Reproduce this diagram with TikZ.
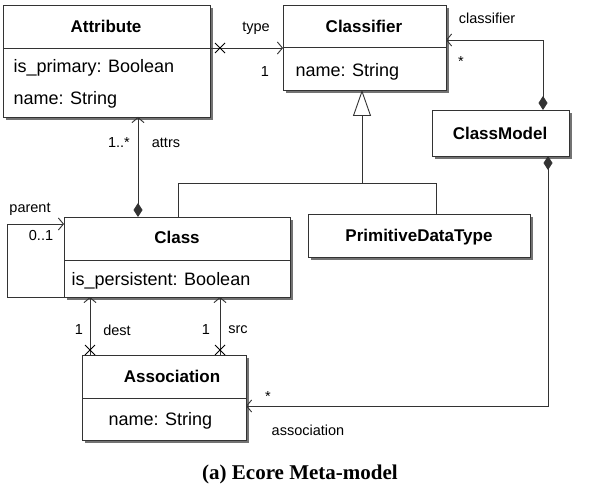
\documentclass[tikz,border=0pt]{standalone}
\usepackage{fontspec}
\setmainfont{Liberation Sans}
\usetikzlibrary{arrows.meta,shadows}
\begin{document}
\begin{tikzpicture}[x=1pt,y=-1pt,
  box/.style={draw=black!80,line width=1.2pt,fill=white,anchor=north west,inner sep=0pt,
    drop shadow={shadow xshift=2.5pt,shadow yshift=-2.5pt,fill=black!55,opacity=1}},
  hd/.style={font=\fontsize{17}{19}\selectfont\bfseries},
  attxt/.style={font=\fontsize{18}{20}\selectfont,anchor=west},
  lb/.style={font=\fontsize{14.5}{16}\selectfont},
  ln/.style={line width=0.9pt,draw=black!80},
  opn/.style={-{Straight Barb[length=5pt,width=12pt]}},
  diaopn/.style={{Diamond[length=14pt,width=9pt]}-{Straight Barb[length=5pt,width=12pt]}},
  xm/.style={line width=0.9pt}]
\useasboundingbox (0,0) rectangle (603,484);
% Attribute
\node[box,minimum width=207pt,minimum height=112pt] (attr) at (3,5) {};
\draw[ln] (3,48) -- (210,48);
\node[hd] at (106,26) {Attribute};
\node[attxt] at (10,68) {is\_primary: Boolean};
\node[attxt] at (10,100) {name: String};
% Classifier
\node[box,minimum width=163pt,minimum height=85pt] (clsf) at (283,5) {};
\draw[ln] (283,47) -- (446,47);
\node[hd] at (364,26) {Classifier};
\node[attxt] at (292,72) {name: String};
% ClassModel
\node[box,minimum width=137pt,minimum height=46pt] (cm) at (432,110) {};
\node[hd] at (500,133) {ClassModel};
% Class
\node[box,minimum width=226pt,minimum height=80pt] (cls) at (64,217) {};
\draw[ln] (64,260) -- (290,260);
\node[hd] at (177,237) {Class};
\node[attxt] at (68,281) {is\_persistent: Boolean};
% PrimitiveDataType
\node[box,minimum width=222pt,minimum height=43pt] (pdt) at (308,214) {};
\node[hd] at (419,237) {PrimitiveDataType};
% Association
\node[box,minimum width=164pt,minimum height=85pt] (asc) at (82,355) {};
\draw[ln] (82,398) -- (246,398);
\node[hd] at (172,376) {Association};
\node[attxt] at (105,421) {name: String};
% coordinates
\coordinate (a1) at (210,48); \coordinate (c1) at (283,48);
\coordinate (g1) at (362,90); \coordinate (g2) at (362,183);
\coordinate (g3) at (178,183); \coordinate (g4) at (436,183);
\coordinate (k1) at (543,110); \coordinate (k2) at (543,40); \coordinate (k3) at (446,40);
\coordinate (m1) at (548,156); \coordinate (m2) at (548,406); \coordinate (m3) at (246,406);
\coordinate (s1) at (138,217); \coordinate (s2) at (138,117);
\coordinate (p1) at (64,224); \coordinate (p2) at (7,224); \coordinate (p3) at (7,297); \coordinate (p4) at (64,297);
\coordinate (d1) at (90,355); \coordinate (d2) at (90,297);
\coordinate (r1) at (220,355); \coordinate (r2) at (220,297);
% type
\draw[ln,opn] (a1) -- (c1);
\draw[xm] (215,43) -- (225,53) (215,53) -- (225,43);
\node[lb] at (256,28) {type};
\node[lb] at (265,72) {1};
% generalization
\draw[ln,{Triangle[open,length=26pt,width=18pt]}-] (g1) -- (g2);
\draw[ln] (g3|-cls.north) -- (g3) -- (g4) -- (g4|-pdt.north);
% classifier
\draw[ln,diaopn] (k1) -- (k2) -- (k3);
\node[lb] at (487,18) {classifier};
\node[lb] at (461,62) {*};
% association
\draw[ln,diaopn] (m1) -- (m2) -- (m3);
\node[lb] at (268,397) {*};
\node[lb] at (308,430) {association};
% attrs
\draw[ln,diaopn] (s1) -- (s2);
\node[lb] at (119,143) {1..*};
\node[lb] at (166,143) {attrs};
% parent
\draw[ln,opn] (p4) -- (p3) -- (p2) -- (p1);
\node[lb] at (30,209) {parent};
\node[lb] at (41,236) {0..1};
% dest / src
\draw[ln,opn] (d1) -- (d2);
\draw[xm] (85,345) -- (95,355) (85,355) -- (95,345);
\node[lb] at (79,330) {1};
\node[lb] at (117,330) {dest};
\draw[ln,opn] (r1) -- (r2);
\draw[xm] (215,345) -- (225,355) (215,355) -- (225,345);
\node[lb] at (206,330) {1};
\node[lb] at (238,330) {src};
% caption
\node[font=\fontsize{21}{23}\selectfont\bfseries,anchor=base] (cap) at (300,479) {\fontspec{Liberation Serif}(a)\ Ecore Meta-model};
\end{tikzpicture}
\end{document}
